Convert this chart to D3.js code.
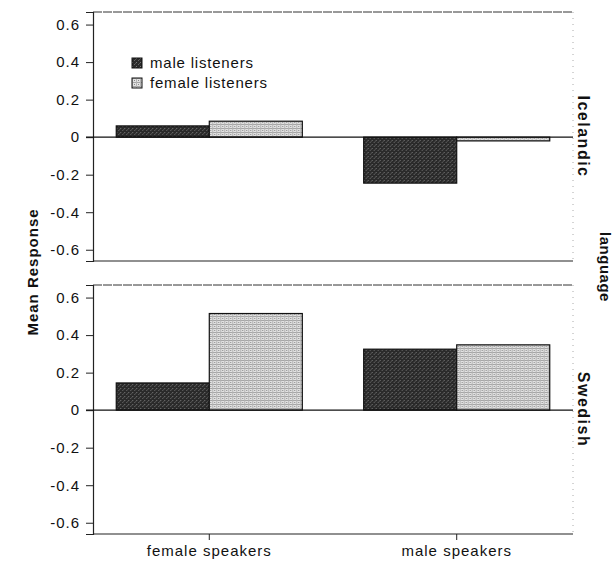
<!DOCTYPE html>
<html>
<head>
<meta charset="utf-8">
<script src="https://cdn.jsdelivr.net/npm/d3@7"></script>
<style>
  body { margin:0; background:#fff; }
  text { font-family:"Liberation Sans", Arial, Helvetica, sans-serif; fill:#111; }
</style>
</head>
<body>
<div id="chart"></div>
<script>
// data
var languages = ["Icelandic", "Swedish"];
var speakers = ["female speakers", "male speakers"];
var listeners = ["male listeners", "female listeners"];
// values[language][speaker] = [male listeners, female listeners]
var icelandicValues = [[0.06, 0.085], [-0.245, -0.02]];
var swedishValues = [[0.145, 0.515], [0.325, 0.348]];
var yTicks = [-0.6, -0.4, -0.2, 0, 0.2, 0.4, 0.6];

var allValues = [icelandicValues, swedishValues];

var svgWidth = 613, svgHeight = 563;
var left = 93, right = 573;
var panels = [{top:12, bottom:261}, {top:285, bottom:534}];

var svg = d3.select("#chart").append("svg")
  .attr("width", svgWidth)
  .attr("height", svgHeight);

// textures for the two bar fills
var defs = svg.append("defs");
var dark = defs.append("pattern").attr("id","darkTex")
  .attr("width",4).attr("height",4).attr("patternUnits","userSpaceOnUse");
dark.append("rect").attr("width",4).attr("height",4).attr("fill","#2a2a2a");
dark.append("rect").attr("x",0).attr("y",0).attr("width",1).attr("height",1).attr("fill","#777");
dark.append("rect").attr("x",2).attr("y",2).attr("width",1).attr("height",1).attr("fill","#666");
dark.append("rect").attr("x",3).attr("y",1).attr("width",1).attr("height",1).attr("fill","#555");

var light = defs.append("pattern").attr("id","lightTex")
  .attr("width",4).attr("height",4).attr("patternUnits","userSpaceOnUse");
light.append("rect").attr("width",4).attr("height",4).attr("fill","#e2e2e2");
light.append("rect").attr("x",0).attr("y",0).attr("width",4).attr("height",1).attr("fill","#a6a6a6");
light.append("rect").attr("x",0).attr("y",0).attr("width",1).attr("height",4).attr("fill","#b4b4b4");
light.append("rect").attr("x",2).attr("y",2).attr("width",1).attr("height",1).attr("fill","#888");

var fills = ["url(#darkTex)", "url(#lightTex)"];

var x0 = d3.scaleBand().domain(speakers).range([left, right])
  .paddingInner(0.248).paddingOuter(0.094);
var x1 = d3.scaleBand().domain(listeners).range([0, x0.bandwidth()]);

var fmt = function(d){ return d === 0 ? "0" : d.toFixed(1); };

panels.forEach(function(p, k){
  var y = d3.scaleLinear().domain([-0.66, 0.667]).range([p.bottom, p.top]);
  var g = svg.append("g");

  // frame
  g.append("line").attr("x1",left).attr("x2",right).attr("y1",p.top).attr("y2",p.top)
    .attr("stroke","#333").attr("stroke-width",1).attr("stroke-dasharray","9,1");
  g.append("line").attr("x1",right).attr("x2",right).attr("y1",p.top).attr("y2",p.bottom)
    .attr("stroke","#aaa").attr("stroke-width",1).attr("stroke-dasharray","1,5");
  g.append("line").attr("x1",left).attr("x2",right).attr("y1",p.bottom).attr("y2",p.bottom)
    .attr("stroke","#222").attr("stroke-width",1.2);

  // y axis
  var ax = g.append("g").attr("transform","translate("+left+",0)")
    .call(d3.axisLeft(y).tickValues(yTicks).tickFormat(fmt).tickSize(7).tickPadding(6));
  ax.select(".domain").attr("stroke","#222").attr("stroke-width",1.2);
  ax.selectAll(".tick line").attr("stroke","#222");
  ax.selectAll("text").style("font-size","15px").style("letter-spacing","1px").attr("fill","#111");

  // bars
  var groups = g.selectAll(".grp")
    .data(speakers)
    .enter().append("g")
    .attr("class","grp")
    .attr("transform", function(d){ return "translate("+x0(d)+",0)"; });
  groups.selectAll("rect")
    .data(function(d,i){ return allValues[k][i]; })
    .enter().append("rect")
    .attr("x", function(d,i){ return x1(listeners[i]); })
    .attr("y", function(d){ return y(Math.max(0,d)); })
    .attr("width", x1.bandwidth())
    .attr("height", function(d){ return Math.abs(y(d)-y(0)); })
    .attr("fill", function(d,i){ return fills[i]; })
    .attr("stroke","#111").attr("stroke-width",1.2);

  // zero line
  g.append("line").attr("x1",left-7).attr("x2",right).attr("y1",y(0)).attr("y2",y(0))
    .attr("stroke","#111").attr("stroke-width",1.4);

  // panel label on the right
  var cy = (p.top+p.bottom)/2;
  g.append("text")
    .attr("transform","translate(578,"+cy+") rotate(90)")
    .attr("text-anchor","middle")
    .style("font-size","16px").style("font-weight","bold").style("letter-spacing","1.5px")
    .text(languages[k]);

  if(k == 1){
    var xa = g.append("g").attr("transform","translate(0,"+p.bottom+")")
      .call(d3.axisBottom(x0).tickSize(6).tickPadding(5));
    xa.select(".domain").remove();
    xa.selectAll(".tick line").attr("stroke","#222");
    xa.selectAll("text").style("font-size","15px").style("letter-spacing","1px").attr("fill","#111");
  }
});

// legend
var legend = svg.selectAll(".legend")
  .data(listeners)
  .enter().append("g")
  .attr("class","legend")
  .attr("transform", function(d,i){ return "translate(132,"+(58+i*20)+")"; });
legend.append("rect").attr("width",10).attr("height",10)
  .attr("fill", function(d,i){ return fills[i]; })
  .attr("stroke","#111").attr("stroke-width",1);
legend.append("text").attr("x",18).attr("y",10)
  .style("font-size","15px").style("letter-spacing","0.8px")
  .text(function(d){ return d; });

// axis titles
svg.append("text")
  .attr("transform","translate(38,272) rotate(-90)")
  .attr("text-anchor","middle")
  .style("font-size","15px").style("font-weight","bold").style("letter-spacing","1px")
  .text("Mean Response");
svg.append("text")
  .attr("transform","translate(600,267) rotate(90)")
  .attr("text-anchor","middle")
  .style("font-size","15px").style("font-weight","bold").style("letter-spacing","0.5px")
  .text("language");
</script>
</body>
</html>
